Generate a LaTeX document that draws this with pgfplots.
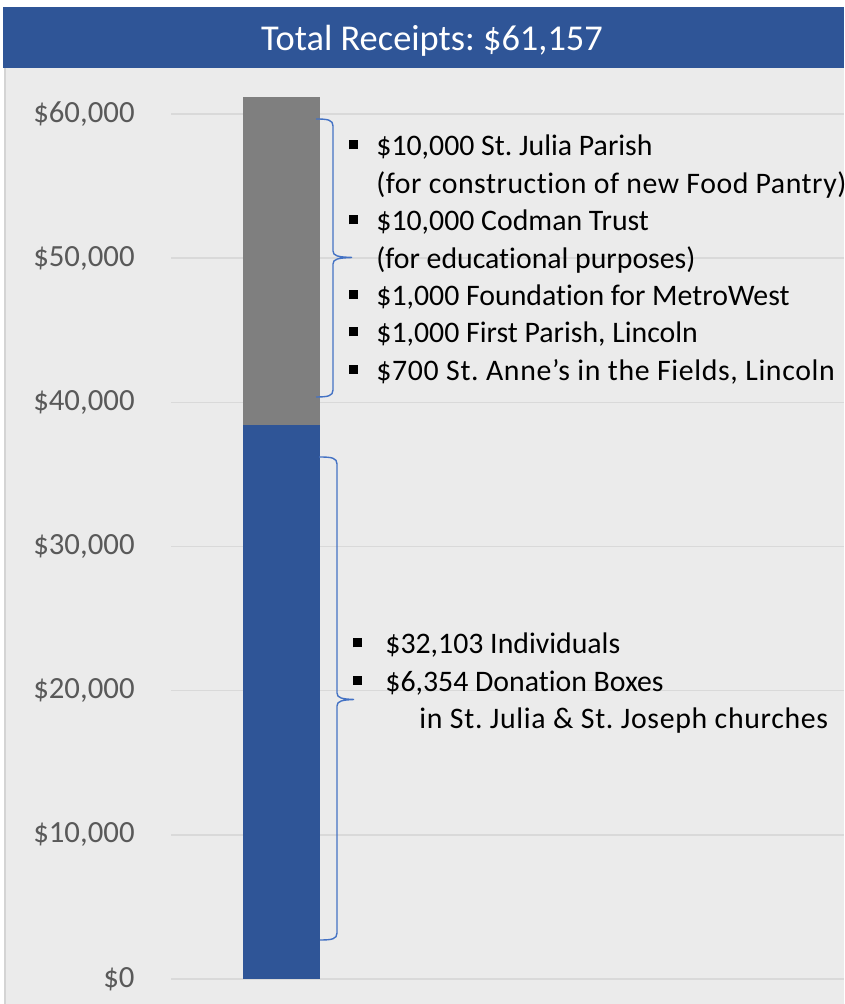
\documentclass[border=0pt]{standalone}
\usepackage{fontspec}
\setmainfont{Carlito}[Ligatures=NoCommon]
\usepackage{pgfplots}
\pgfplotsset{compat=1.18}
\definecolor{obl}{HTML}{2F5597}
\definecolor{ogray}{HTML}{7F7F7F}
\definecolor{panel}{HTML}{EBEBEB}
\definecolor{bordergray}{HTML}{D4D4D4}
\definecolor{gridgray}{HTML}{D9D9D9}
\definecolor{tickgray}{HTML}{595959}
\definecolor{bracecol}{HTML}{4472C4}
\newcommand\bul{\rule[3.25pt]{4.5pt}{4.5pt}}
\newcommand\ls[2]{{\addfontfeature{LetterSpace=#1}#2}}
\frenchspacing
\begin{document}
\begin{tikzpicture}
\useasboundingbox (0,0) rectangle (422pt,502pt);
\begin{scope}[x=0.5pt,y=-0.5pt,yshift=502pt]
\fill[white] (0,0) rectangle (844,1004);
\fill[obl] (3,7) rectangle (844,68);
\fill[panel] (4,68) rectangle (844,1004);
\draw[bordergray, line width=1pt] (5,68) -- (5,1004);
\node[anchor=base, text=white, inner sep=0pt, font=\fontsize{18.2}{22}\selectfont] at (432,51) {Total Receipts: \$61,157};
\end{scope}
\begin{axis}[at={(85.5pt,12.5pt)}, anchor=south west, scale only axis,
  width=336.5pt, height=432.5pt,
  xmin=171, xmax=844, ymin=0, ymax=60000, clip=false,
  axis line style={draw=none}, tick style={draw=none},
  xtick=\empty, scaled y ticks=false,
  ytick={0,10000,20000,30000,40000,50000,60000},
  yticklabels={{\$0},{\$10,000},{\$20,000},{\$30,000},{\$40,000},{\$50,000},{\$60,000}},
  yticklabel style={font=\fontsize{15.4}{18}\selectfont, text=tickgray, anchor=east, inner sep=0pt, xshift=-18pt},
  ymajorgrids, grid style={gridgray, line width=0.75pt},
  ybar stacked, bar width=38.5pt]
\addplot[fill=obl, draw=none] coordinates {(281.5,38457)};
\addplot[fill=ogray, draw=none] coordinates {(281.5,22700)};
\node[rotate=90, text=white, font=\bfseries\fontsize{15}{18}\selectfont] at (axis cs:281.5,19228) {DONATIONS};
\node[rotate=90, text=white, font=\bfseries\fontsize{15}{18}\selectfont] at (axis cs:281.5,49900) {GRANTS};
\end{axis}
\begin{scope}[x=0.5pt,y=-0.5pt,yshift=502pt]
\draw[bracecol, line width=0.7pt] (316,119) .. controls (328,119) and (333,120) .. (333,126) -- (333,251) .. controls (333,256) and (338,257) .. (352,257.5) .. controls (338,258) and (333,259) .. (333,264) -- (333,390) .. controls (333,396) and (328,397) .. (316,397);
\draw[bracecol, line width=0.7pt] (319,457) .. controls (332,457) and (337,458) .. (337,464) -- (337,693) .. controls (337,698) and (342,699) .. (354,699.5) .. controls (342,700) and (337,701) .. (337,706) -- (337,933) .. controls (337,939) and (332,940) .. (320,940);
\node[anchor=base west, inner sep=0pt, font=\fontsize{14.9}{18.7}\selectfont] at (349,156) {\begin{tabular}[t]{@{}p{13.5pt}@{}l@{}}
\bul & \$10,000 St. Julia Parish\\
 & \ls{1.8}{(for construction of new Food Pantry)}\\
\bul & \$10,000 Codman Trust\\
 & (for educational purposes)\\
\bul & \$1,000 Foundation for MetroWest\\
\bul & \$1,000 First Parish, Lincoln\\
\bul & \ls{2.2}{\$700 St. Anne’s in the Fields, Lincoln}
\end{tabular}};
\node[anchor=base west, inner sep=0pt, font=\fontsize{14.9}{18.7}\selectfont] at (353,654) {\begin{tabular}[t]{@{}p{16pt}@{}l@{}}
\bul & \$32,103 Individuals\\
\bul & \$6,354 Donation Boxes\\
 & \hspace{17pt}\ls{2.3}{in St. Julia \& St. Joseph churches}
\end{tabular}};
\end{scope}
\end{tikzpicture}
\end{document}
